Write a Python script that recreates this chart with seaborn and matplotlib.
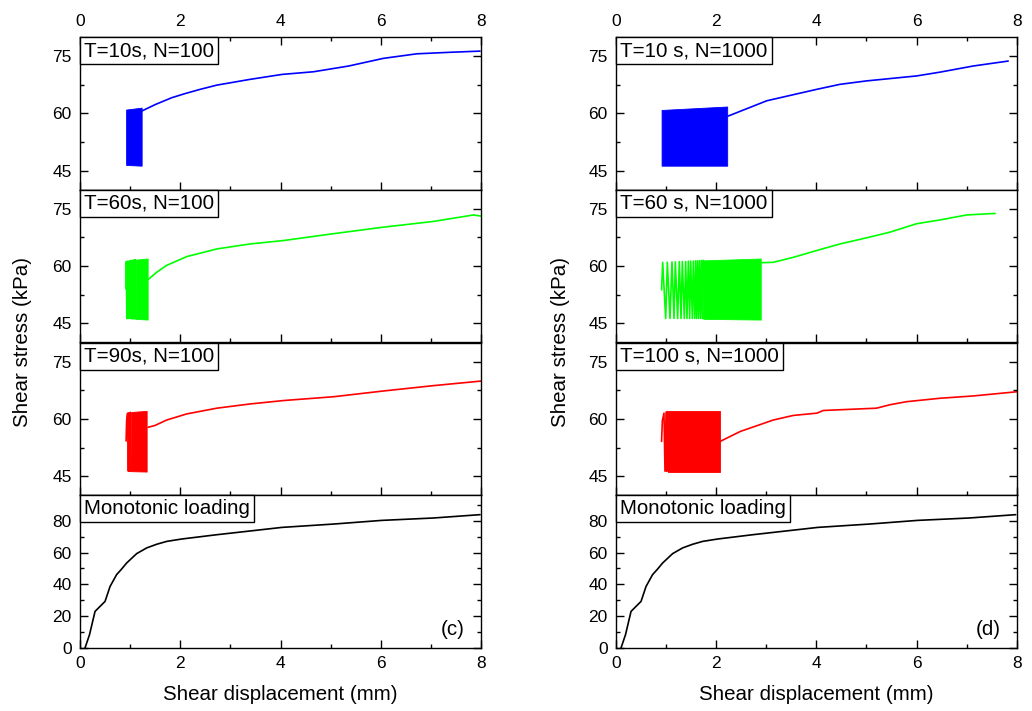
import numpy as np
import pandas as pd
import seaborn as sns
import matplotlib
matplotlib.use("Agg")
import matplotlib.pyplot as plt
from matplotlib.ticker import MultipleLocator
from matplotlib.offsetbox import AnchoredText

# ---------------- data ----------------
# monotonic loading (same test shown in both columns)
mono_x = [0.10, 0.19, 0.30, 0.50, 0.60, 0.73, 0.83, 0.93, 1.13, 1.33, 1.53, 1.73, 2.03, 2.73, 4.03, 5.06, 6.02, 7.05, 7.98]
mono_y = [0.0, 8.4, 23.0, 29.3, 38.7, 46.1, 49.6, 53.4, 59.3, 62.9, 65.2, 67.0, 68.5, 71.2, 75.8, 77.9, 80.2, 81.7, 83.8]

# post-cyclic monotonic curves
c10_100_x = [1.23, 1.50, 1.83, 2.10, 2.40, 2.73, 3.39, 4.03, 4.66, 5.36, 6.05, 6.72, 7.39, 7.98]
c10_100_y = [60.6, 62.3, 64.1, 65.2, 66.3, 67.4, 68.9, 70.2, 70.9, 72.4, 74.4, 75.6, 76.0, 76.3]
c60_100_x = [1.36, 1.53, 1.73, 2.13, 2.73, 3.39, 4.06, 5.06, 6.05, 7.05, 7.85, 8.0]
c60_100_y = [56.5, 58.4, 60.2, 62.5, 64.5, 65.8, 66.7, 68.5, 70.2, 71.7, 73.4, 73.1]
c90_100_x = [1.36, 1.50, 1.73, 2.13, 2.73, 3.39, 4.06, 5.06, 6.05, 7.05, 8.0]
c90_100_y = [57.8, 58.3, 59.7, 61.3, 62.8, 63.9, 64.8, 65.8, 67.3, 68.7, 69.9]
c10_1000_x = [2.24, 3.01, 4.01, 4.47, 5.0, 6.0, 6.47, 7.13, 7.83]
c10_1000_y = [59.3, 63.3, 66.3, 67.6, 68.5, 69.8, 70.8, 72.4, 73.7]
c60_1000_x = [2.91, 3.14, 3.54, 4.01, 4.47, 5.0, 5.47, 6.0, 6.47, 7.0, 7.57]
c60_1000_y = [60.9, 61.0, 62.3, 64.1, 65.8, 67.4, 68.9, 71.1, 72.1, 73.4, 73.8]
c100_1000_x = [2.08, 2.48, 2.81, 3.14, 3.54, 4.01, 4.14, 4.67, 5.2, 5.47, 5.8, 6.47, 7.13, 8.0]
c100_1000_y = [54.1, 56.7, 58.2, 59.7, 60.9, 61.5, 62.2, 62.5, 62.8, 63.7, 64.5, 65.4, 66.0, 67.1]

# individually visible cyclic strokes (reversal points)
s60_100_x = [0.92, 0.925, 0.935, 0.955, 0.965, 0.99, 1.0, 1.02, 1.03, 1.05, 1.06, 1.075, 1.085, 1.10, 1.11]
s60_100_y = [54.0, 61.2, 46.3, 61.3, 46.3, 61.4, 46.3, 61.5, 46.2, 61.5, 46.2, 61.6, 46.2, 61.7, 46.2]
s90_100_x = [0.92, 0.93, 0.95, 0.965, 0.98, 0.99, 1.005, 1.02]
s90_100_y = [54.2, 59.5, 61.5, 46.3, 61.6, 46.3, 61.7, 46.3]
s60_1000_x = [0.91, 0.932, 0.992, 1.025, 1.078, 1.118, 1.158, 1.185, 1.231, 1.264, 1.298, 1.324, 1.364,
              1.391, 1.417, 1.444, 1.471, 1.491, 1.524, 1.544, 1.571, 1.591, 1.610, 1.630, 1.650,
              1.670, 1.690, 1.710, 1.730, 1.745]
s60_1000_y = [53.8, 61.0, 46.3, 61.0, 46.3, 61.1, 46.3, 61.1, 46.3, 61.2, 46.3, 61.2, 46.3,
              61.2, 46.3, 61.3, 46.3, 61.3, 46.3, 61.3, 46.3, 61.4, 46.3, 61.4, 46.3,
              61.4, 46.3, 61.5, 46.3, 61.5]
s100_1000_x = [0.91, 0.925, 0.958, 0.978, 1.0, 1.012, 1.03, 1.045]
s100_1000_y = [54.1, 59.5, 61.5, 46.3, 61.8, 46.3, 61.9, 46.3]

# dense cyclic blocks: displacement range, upper and lower envelope
b10_100_x, b10_100_top, b10_100_bot = [0.92, 1.23], [61.0, 61.5], [46.5, 46.3]
b60_100_x, b60_100_top, b60_100_bot = [1.11, 1.35], [61.7, 62.0], [46.2, 46.0]
b90_100_x, b90_100_top, b90_100_bot = [1.02, 1.33], [61.8, 62.1], [46.3, 46.2]
b10_1000_x, b10_1000_top, b10_1000_bot = [0.91, 2.22], [60.9, 61.8], [46.3, 46.3]
b60_1000_x, b60_1000_top, b60_1000_bot = [1.74, 2.89], [61.5, 62.0], [46.2, 46.0]
b100_1000_x, b100_1000_top, b100_1000_bot = [1.04, 2.08], [62.1, 62.1], [46.2, 46.2]

left_labels = ["T=10s, N=100", "T=60s, N=100", "T=90s, N=100", "Monotonic loading"]
right_labels = ["T=10 s, N=1000", "T=60 s, N=1000", "T=100 s, N=1000", "Monotonic loading"]
x_ticks = [0, 2, 4, 6, 8]
cyc_yticks = [45, 60, 75]
mono_yticks = [0, 20, 40, 60, 80]

# ---------------- style ----------------
sns.set_theme(style="ticks")
plt.rcParams["font.family"] = ["Liberation Sans", "DejaVu Sans"]
plt.rcParams["axes.linewidth"] = 1.0
plt.rcParams["axes.edgecolor"] = "black"
plt.rcParams["axes.labelcolor"] = "black"
plt.rcParams["text.color"] = "black"
plt.rcParams["xtick.color"] = "black"
plt.rcParams["ytick.color"] = "black"
plt.rcParams["xtick.labelcolor"] = "black"
plt.rcParams["ytick.labelcolor"] = "black"

BLUE, GREEN, RED, BLACK = "#0000FF", "#00FF00", "#FF0000", "#000000"
LW = 1.2
TXT = 14.8
TICK = 12.5

fig = plt.figure(figsize=(10.32, 7.11), dpi=100)
W, H = 1032.0, 711.0
top_px, bot_px = 37.0, 648.0
ph = (bot_px - top_px) / 4.0


def make_axes(left_px, width_px):
    axs = []
    for i in range(4):
        b = 1 - (top_px + (i + 1) * ph) / H
        axs.append(fig.add_axes([left_px / W, b, width_px / W, ph / H]))
    return axs


def line(ax, x, y, c):
    df = pd.DataFrame({"x": x, "y": y})
    sns.lineplot(data=df, x="x", y="y", ax=ax, color=c, lw=LW, sort=False, estimator=None)


def band(ax, x, top, bot, c):
    ax.fill_between(x, bot, top, color=c, lw=0.6, edgecolor=c)


def style_axes(axs, labels, tag):
    for i, ax in enumerate(axs):
        ax.set_xlim(0, 8)
        ax.set_xticks(x_ticks)
        ax.xaxis.set_minor_locator(MultipleLocator(1))
        if i < 3:
            ax.set_ylim(40, 80)
            ax.set_yticks(cyc_yticks)
            ax.yaxis.set_minor_locator(MultipleLocator(7.5))
        else:
            ax.set_ylim(0, 96)
            ax.set_yticks(mono_yticks)
            ax.yaxis.set_minor_locator(MultipleLocator(10))
        ax.tick_params(which="both", direction="in", top=(i == 0), right=True, bottom=True,
                       labeltop=(i == 0), labelbottom=(i == 3), labelleft=True,
                       labelsize=TICK, width=1.0, pad=6, colors="black")
        ax.tick_params(which="major", length=5.5)
        ax.tick_params(which="minor", length=3)
        ax.set_xlabel("")
        ax.set_ylabel("")
        for s in ax.spines.values():
            s.set_visible(True)
            s.set_linewidth(1.0)
            s.set_color("black")
        at = AnchoredText(labels[i], loc="upper left", prop=dict(size=TXT, color="black"),
                          frameon=True, pad=0.2, borderpad=0.0)
        at.patch.set_boxstyle("square,pad=0")
        at.patch.set_linewidth(1.0)
        at.patch.set_edgecolor("black")
        ax.add_artist(at)
    axs[3].set_xlabel("Shear displacement (mm)", fontsize=TXT, labelpad=10, color="black")
    axs[3].text(0.96, 0.12, tag, transform=axs[3].transAxes, ha="right", va="center",
                fontsize=TXT, color="black")


# ---------------- left column (N=100) ----------------
L = make_axes(80, 401)
band(L[0], b10_100_x, b10_100_top, b10_100_bot, BLUE)
line(L[0], c10_100_x, c10_100_y, BLUE)
line(L[1], s60_100_x, s60_100_y, GREEN)
band(L[1], b60_100_x, b60_100_top, b60_100_bot, GREEN)
line(L[1], c60_100_x, c60_100_y, GREEN)
line(L[2], s90_100_x, s90_100_y, RED)
band(L[2], b90_100_x, b90_100_top, b90_100_bot, RED)
line(L[2], c90_100_x, c90_100_y, RED)
line(L[3], mono_x, mono_y, BLACK)
style_axes(L, left_labels, "(c)")

# ---------------- right column (N=1000) ----------------
R = make_axes(616, 400.7)
band(R[0], b10_1000_x, b10_1000_top, b10_1000_bot, BLUE)
line(R[0], c10_1000_x, c10_1000_y, BLUE)
line(R[1], s60_1000_x, s60_1000_y, GREEN)
band(R[1], b60_1000_x, b60_1000_top, b60_1000_bot, GREEN)
line(R[1], c60_1000_x, c60_1000_y, GREEN)
line(R[2], s100_1000_x, s100_1000_y, RED)
band(R[2], b100_1000_x, b100_1000_top, b100_1000_bot, RED)
line(R[2], c100_1000_x, c100_1000_y, RED)
line(R[3], mono_x, mono_y, BLACK)
style_axes(R, right_labels, "(d)")

fig.text(23 / W, 1 - 342 / H, "Shear stress (kPa)", rotation=90, ha="center", va="center",
         fontsize=TXT, color="black")
fig.text(560 / W, 1 - 342 / H, "Shear stress (kPa)", rotation=90, ha="center", va="center",
         fontsize=TXT, color="black")

fig.savefig("out.png", dpi=100)
